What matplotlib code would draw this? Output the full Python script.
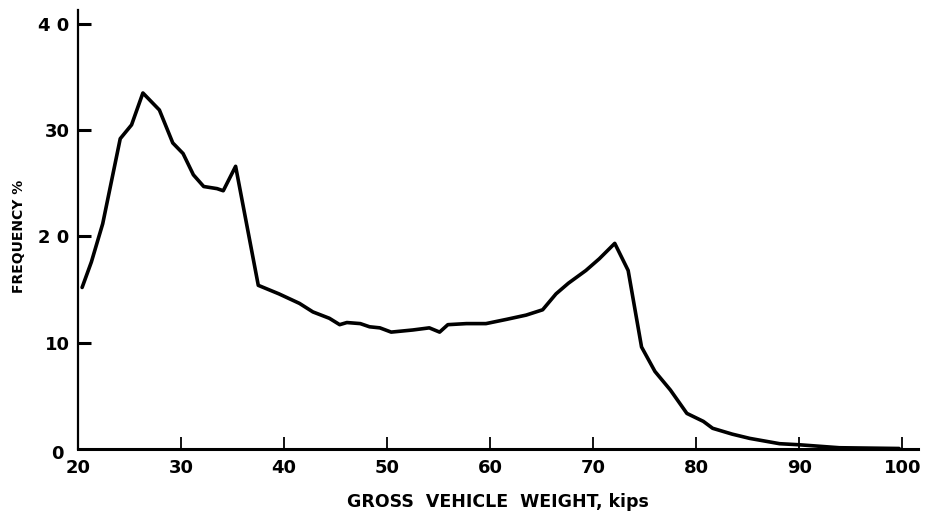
import matplotlib
matplotlib.use("Agg")
import matplotlib.pyplot as plt
from matplotlib.transforms import ScaledTranslation

# Gross vehicle weight (kips) and frequency (%)
gvw_kips = [20.4, 21.3, 22.4, 24.1, 25.2, 26.3, 27.9, 29.2, 30.2, 31.2,
            32.2, 33.5, 34.1, 35.3, 37.5, 39.5, 41.5, 42.8, 44.4, 45.4,
            46.1, 47.4, 48.3, 49.3, 50.4, 52.5, 54.1, 55.1, 55.9, 57.7,
            59.6, 61.6, 63.5, 65.1, 66.4, 67.6, 69.3, 70.6, 72.1, 73.4,
            74.7, 76.0, 77.5, 79.1, 80.7, 81.6, 83.5, 85.2, 88.1, 90.0,
            93.9, 99.7]
frequency = [15.2, 17.6, 21.2, 29.2, 30.5, 33.5, 31.9, 28.8, 27.8, 25.8,
             24.7, 24.5, 24.3, 26.6, 15.4, 14.6, 13.7, 12.9, 12.3, 11.7,
             11.9, 11.8, 11.5, 11.4, 11.0, 11.2, 11.4, 11.0, 11.7, 11.8,
             11.8, 12.2, 12.6, 13.1, 14.6, 15.6, 16.8, 17.9, 19.35, 16.8,
             9.6, 7.3, 5.55, 3.35, 2.6, 1.95, 1.4, 1.0, 0.5, 0.4,
             0.12, 0.05]

x_ticks = [20, 30, 40, 50, 60, 70, 80, 90, 100]
x_tick_labels = ["20", "30", "40", "50", "60", "70", "80", "90", "100"]
y_ticks = [0, 10, 20, 30, 40]
y_tick_labels = ["0", "10", "2 0", "30", "4 0"]

fig = plt.figure(figsize=(9.34, 5.17), dpi=100)
ax = fig.add_axes([0.0835, 0.1315, 0.899, 0.849])

ax.plot(gvw_kips, frequency, color="black", linewidth=2.6,
        solid_joinstyle="round", solid_capstyle="round")

ax.set_xlim(20, 101.5)
ax.set_ylim(0, 41.3)

for side in ("top", "right"):
    ax.spines[side].set_visible(False)
ax.spines["left"].set_linewidth(1.6)
ax.spines["bottom"].set_linewidth(2.2)

ax.set_xticks(x_ticks)
ax.set_xticklabels(x_tick_labels)
ax.set_yticks(y_ticks)
ax.set_yticklabels(y_tick_labels)

ax.tick_params(axis="x", direction="in", length=9, width=1.3, pad=7,
               labelsize=13)
ax.tick_params(axis="y", direction="in", length=9, width=2.2, pad=6,
               labelsize=13)
for lab in ax.get_xticklabels() + ax.get_yticklabels():
    lab.set_fontweight("bold")

# the origin label sits a little off the corner
ylab0 = ax.get_yticklabels()[0]
ylab0.set_transform(ylab0.get_transform()
                    + ScaledTranslation(-0.06, -0.03, fig.dpi_scale_trans))
for tick in ax.yaxis.get_major_ticks()[:1]:
    tick.tick1line.set_visible(False)

ax.set_xlabel("GROSS  VEHICLE  WEIGHT, kips", fontsize=12.5,
              fontweight="bold", labelpad=12)
ax.set_ylabel("FREQUENCY %", fontsize=10, fontweight="bold")
ax.yaxis.set_label_coords(-0.062, 0.485)

fig.savefig("out.png", dpi=100)
